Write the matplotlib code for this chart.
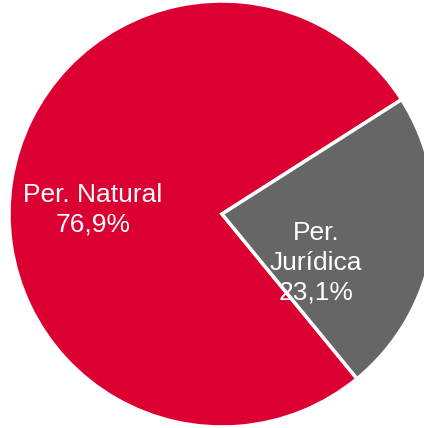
import matplotlib
matplotlib.use("Agg")
import matplotlib.pyplot as plt

categories = ["Per. Natural", "Per.\nJurídica"]
values = [76.9, 23.1]
value_labels = ["76,9%", "23,1%"]
colors = ["#DC0032", "#666666"]

W, H = 424, 428
fig = plt.figure(figsize=(W / 100, H / 100), dpi=100)
ax = fig.add_axes([0, 0, 1, 1])
ax.set_xlim(0, W)
ax.set_ylim(0, H)
ax.set_aspect("equal")
ax.axis("off")

cx, cy, r = 222, 214, 213
ax.pie(values, colors=colors, startangle=32.5, center=(cx, cy), radius=r,
       wedgeprops=dict(edgecolor="white", linewidth=2.5), frame=True)
ax.set_xlim(0, W)
ax.set_ylim(0, H)
ax.axis("off")

font = dict(color="white", fontsize=19, family="Liberation Sans",
            ha="center", va="center", linespacing=1.3)
ax.text(93, H - 210, categories[0] + "\n" + value_labels[0], **font)
ax.text(316, H - 263, categories[1] + "\n" + value_labels[1], **font)

fig.savefig("out.png", dpi=100)
